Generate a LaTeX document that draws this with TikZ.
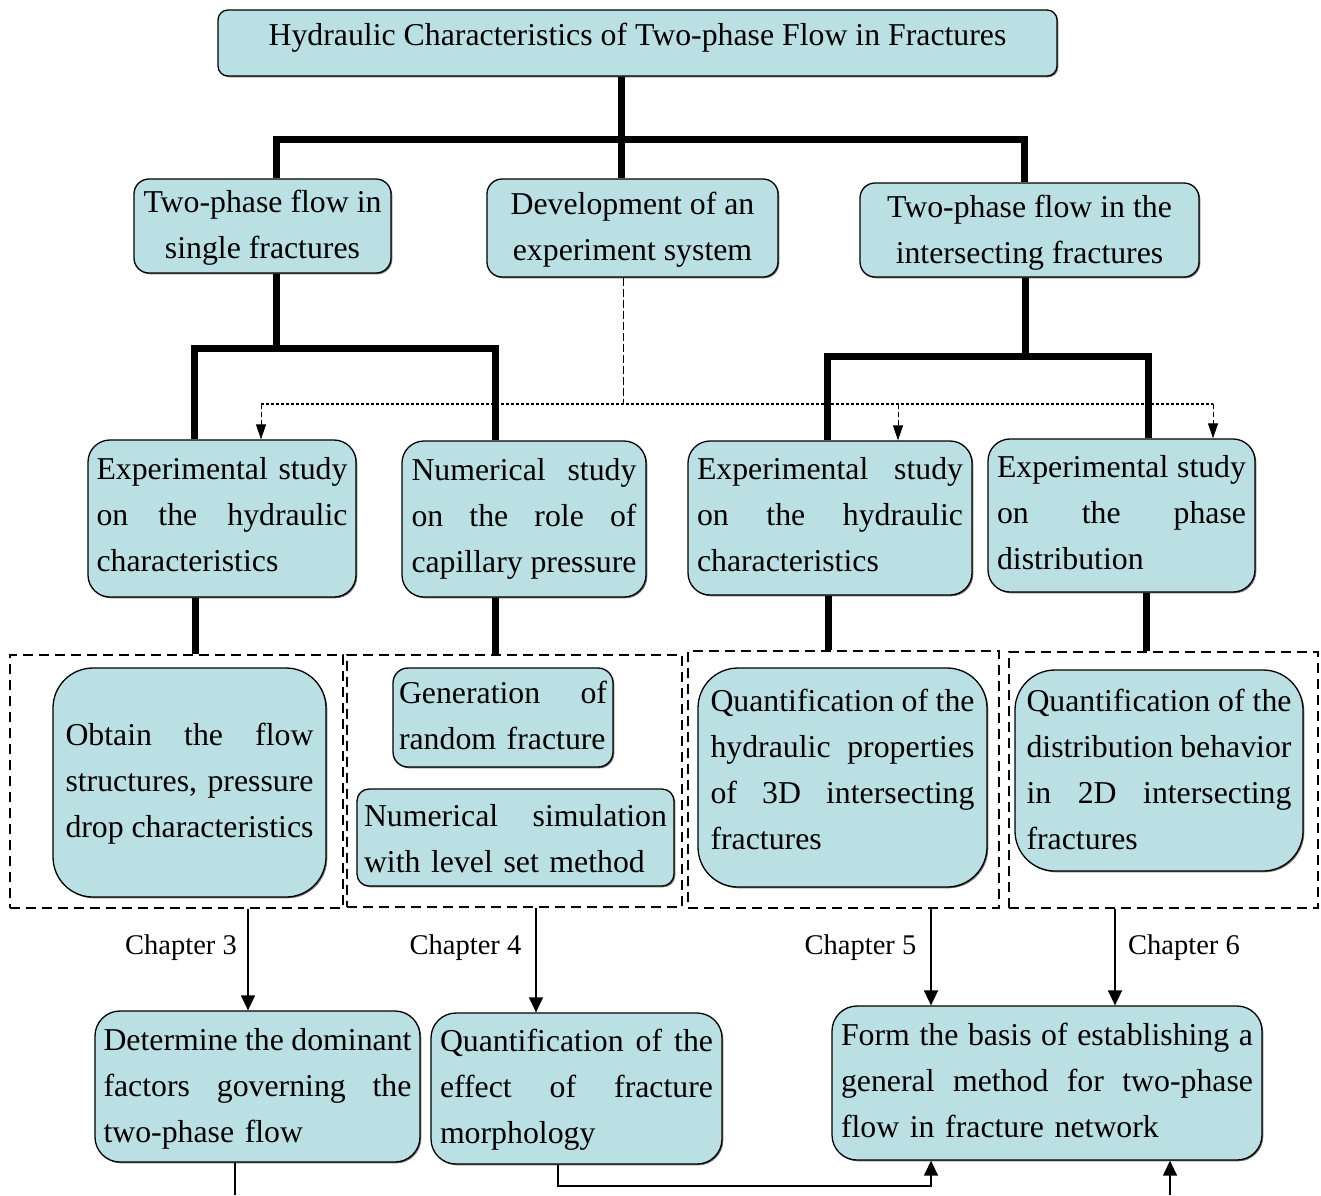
\documentclass[tikz,border=0pt]{standalone}
\usepackage{fontspec}
\setmainfont{Liberation Serif}
\usetikzlibrary{arrows.meta,shadows}
\definecolor{boxfill}{RGB}{186,224,228}
\newcommand\js{\hskip 0.25em plus 1fil minus 0.1em\relax}
\newcommand\jline[2]{\leavevmode\hbox to #1{#2}}
\newcommand\bodyfont{\fontsize{31.8}{46}\selectfont}
\newcommand\chapfont{\fontsize{28.5}{34}\selectfont}
\begin{document}
\begin{tikzpicture}[x=1pt,y=-1pt,
  box/.style={draw, fill=boxfill, line width=1.3pt, inner sep=0pt, font=\bodyfont,
    drop shadow={shadow xshift=1.3pt, shadow yshift=-1.3pt, fill=black!55, opacity=1}},
  jbox/.style={box, align=left},
  cbox/.style={box, align=center},
  dbox/.style={draw, line width=2.8pt, dash pattern=on 10pt off 6pt, inner sep=0pt},
  tree/.style={line width=7pt},
  dv/.style={line width=1pt, dash pattern=on 8pt off 3pt},
  dh/.style={line width=1.5pt, dash pattern=on 3pt off 2pt},
  darr/.style={line width=1pt, dash pattern=on 5pt off 3pt, -{Triangle[length=15pt,width=10pt]}},
  arr/.style={line width=1.5pt, -{Triangle[length=15pt,width=14pt]}},
  thinl/.style={line width=1.5pt},
  chap/.style={font=\chapfont, inner sep=0pt}
]
\useasboundingbox (0,0) rectangle (1321,1195);

% top
\node[cbox, minimum width=839pt, minimum height=66pt, rounded corners=10pt, text height=4pt, text depth=0pt] (title) at (637.5,43)
  {Hydraulic Characteristics of Two-phase Flow in Fractures};
\node[cbox, minimum width=257pt, minimum height=94pt, rounded corners=15pt, text height=64pt, text depth=0pt] (A) at (262.5,226)
  {Two-phase flow in\\single fractures};
\node[cbox, minimum width=291pt, minimum height=98pt, rounded corners=15pt, text height=64pt, text depth=0pt] (B) at (632.5,228)
  {Development of an\\experiment system};
\node[cbox, minimum width=339pt, minimum height=94pt, rounded corners=15pt, text height=66pt, text depth=0pt] (C) at (1029.5,230)
  {Two-phase flow in the\\intersecting fractures};

% second level
\node[jbox, minimum width=268pt, minimum height=157pt, rounded corners=22pt, text width=251pt, text height=0pt, text depth=78pt] (D) at (222,518.5)
  {\jline{251pt}{Experimental\js study}\\\jline{251pt}{on\js the\js hydraulic}\\characteristics};
\node[jbox, minimum width=244pt, minimum height=156pt, rounded corners=22pt, text width=225pt, text height=0pt, text depth=78pt] (E) at (524,519)
  {\jline{225pt}{Numerical\js study}\\\jline{225pt}{on\js the\js role\js of}\\\jline{225pt}{capillary\js pressure}};
\node[jbox, minimum width=284pt, minimum height=154pt, rounded corners=22pt, text width=266pt, text height=0pt, text depth=78pt] (F) at (830,518)
  {\jline{266pt}{Experimental\js study}\\\jline{266pt}{on\js the\js hydraulic}\\characteristics};
\node[jbox, minimum width=267pt, minimum height=153pt, rounded corners=22pt, text width=249pt, text height=0pt, text depth=77pt] (G) at (1121.5,515.5)
  {\jline{249pt}{Experimental\js study}\\\jline{249pt}{on\js the\js phase}\\distribution};

% dashed groups
\node[dbox, minimum width=333pt, minimum height=253pt] (DB1) at (176.5,781.5) {};
\node[dbox, minimum width=335pt, minimum height=252pt] (DB2) at (514.5,781) {};
\node[dbox, minimum width=311pt, minimum height=257pt] (DB3) at (843.5,779.5) {};
\node[dbox, minimum width=309pt, minimum height=256pt] (DB4) at (1163.5,780) {};

\node[jbox, minimum width=273pt, minimum height=229pt, rounded corners=40pt, text width=248pt, text height=0pt, text depth=75pt] (H) at (189.5,782.5)
  {\jline{248pt}{Obtain\js the\js flow}\\\jline{248pt}{structures,\js pressure}\\\jline{248pt}{drop\js characteristics}};
\node[jbox, minimum width=220pt, minimum height=99pt, rounded corners=15pt, text width=208pt, text height=0pt, text depth=29pt] (I) at (503,717.5)
  {\jline{208pt}{Generation\js of}\\random fracture};
\node[jbox, minimum width=317pt, minimum height=97pt, rounded corners=12pt, text width=303pt, text height=0pt, text depth=23pt] (J) at (515.5,837.5)
  {\jline{303pt}{Numerical\js simulation}\\with level set method};
\node[jbox, minimum width=289pt, minimum height=219pt, rounded corners=40pt, text width=264pt, text height=0pt, text depth=133pt] (K) at (842.5,777.5)
  {\jline{264pt}{Quantification\js of\js the}\\\jline{264pt}{hydraulic\js properties}\\\jline{264pt}{of\js 3D\js intersecting}\\fractures};
\node[jbox, minimum width=288pt, minimum height=201pt, rounded corners=40pt, text width=265pt, text height=0pt, text depth=119pt] (L) at (1159,770.5)
  {\jline{265pt}{Quantification\js of\js the}\\\jline{265pt}{distribution\js behavior}\\\jline{265pt}{in\js 2D\js intersecting}\\fractures};

% bottom
\node[jbox, minimum width=325pt, minimum height=151pt, rounded corners=25pt, text width=308pt, text height=0pt, text depth=73pt] (M) at (257.5,1086.5)
  {\jline{308pt}{Determine\js the\js dominant}\\\jline{308pt}{factors\js governing\js the}\\two-phase flow};
\node[jbox, minimum width=291pt, minimum height=151pt, rounded corners=25pt, text width=273pt, text height=0pt, text depth=75pt] (N) at (576.5,1088.5)
  {\jline{273pt}{Quantification\js of\js the}\\\jline{273pt}{effect\js of\js fracture}\\morphology};
\node[jbox, minimum width=430pt, minimum height=154pt, rounded corners=25pt, text width=412pt, text height=0pt, text depth=76pt] (O) at (1047,1083)
  {\jline{412pt}{Form\js the\js basis\js of\js establishing\js a}\\\jline{412pt}{general\js method\js for\js two-phase}\\flow in fracture network};

% chapter labels
\node[chap] (c3) at (181,947.5) {Chapter 3};
\node[chap] (c4) at (465.5,947.5) {Chapter 4};
\node[chap] (c5) at (860.5,947.5) {Chapter 5};
\node[chap] (c6) at (1184,947.5) {Chapter 6};

% coordinates
\coordinate (j0) at (621,139);
\coordinate (aT) at (276,139);
\coordinate (cT) at (1024,139);
\coordinate (a1) at (276,348);
\coordinate (d1) at (194,348);
\coordinate (e1) at (495,348);
\coordinate (c1) at (1025,356);
\coordinate (f1) at (827,356);
\coordinate (g1) at (1148,356);
\coordinate (dd) at (195,0);
\coordinate (ee) at (495,0);
\coordinate (ff) at (828,0);
\coordinate (gg) at (1146,0);
\coordinate (b0) at (623,404);
\coordinate (dl) at (261,404);
\coordinate (df) at (898,404);
\coordinate (dr) at (1213,404);
\coordinate (k3) at (248,0);
\coordinate (k4) at (536,0);
\coordinate (k5) at (931,0);
\coordinate (k6) at (1115,0);
\coordinate (n1) at (558,1186);
\coordinate (o1) at (931,1186);
\coordinate (mEnd) at (235,1195);
\coordinate (oStart) at (1170,1195);

% thick tree
\draw[tree] (title.south -| j0) -- (B.north -| j0);
\draw[tree] (A.north -| aT) -- (aT) -- (cT) -- (C.north -| cT);
\draw[tree] (A.south -| a1) -- (a1);
\draw[tree] (D.north -| d1) -- (d1) -- (e1) -- (E.north -| e1);
\draw[tree] (C.south -| c1) -- (c1);
\draw[tree] (F.north -| f1) -- (f1) -- (g1) -- (G.north -| g1);
\draw[tree] (D.south -| dd) -- (DB1.north -| dd);
\draw[tree] (E.south -| ee) -- (DB2.north -| ee);
\draw[tree] (F.south -| ff) -- (DB3.north -| ff);
\draw[tree] (G.south -| gg) -- (DB4.north -| gg);

% dashed links from experiment system
\draw[dv] (B.south -| b0) -- (b0);
\draw[dh] (dl) -- (dr);
\draw[darr] (dl) -- (D.north -| dl);
\draw[darr] (df) -- (F.north -| df);
\draw[darr] (dr) -- (G.north -| dr);

% chapter arrows
\draw[arr] (DB1.south -| k3) -- (M.north -| k3);
\draw[arr] (DB2.south -| k4) -- (N.north -| k4);
\draw[arr] (DB3.south -| k5) -- (O.north -| k5);
\draw[arr] (DB4.south -| k6) -- (O.north -| k6);

% bottom links
\draw[arr] (N.south -| n1) -- (n1) -- (o1) -- (O.south -| o1);
\draw[thinl] (M.south -| mEnd) -- (mEnd);
\draw[arr] (oStart) -- (O.south -| oStart);
\end{tikzpicture}
\end{document}
